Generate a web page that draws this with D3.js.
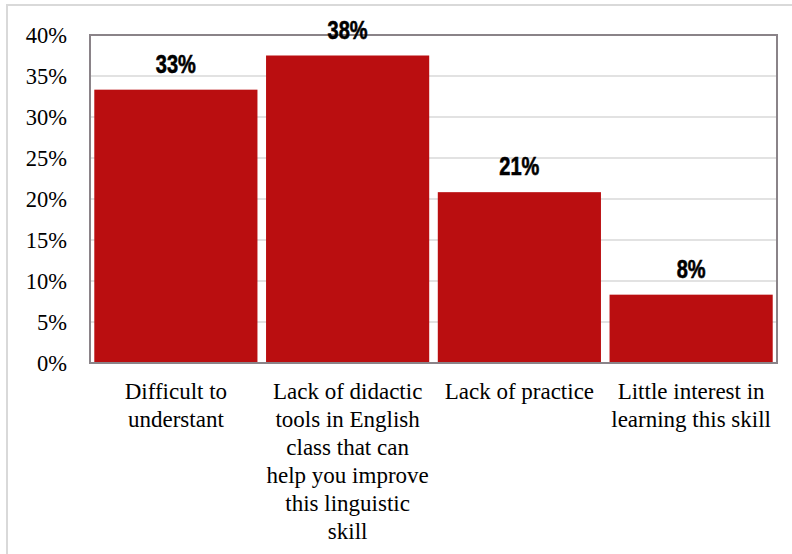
<!DOCTYPE html>
<html>
<head>
<meta charset="utf-8">
<script src="https://cdn.jsdelivr.net/npm/d3@7"></script>
<style>
  html, body { margin: 0; padding: 0; background: #ffffff; }
  svg { display: block; }
</style>
</head>
<body>
<svg id="chart" width="792" height="554"></svg>
<script>
// Reasons reported for difficulty with the skill (share of respondents)
const categories = [
  "Difficult to understant",
  "Lack of didactic tools in English class that can help you improve this linguistic skill",
  "Lack of practice",
  "Little interest in learning this skill"
];
const shares = [8 / 24, 9 / 24, 5 / 24, 2 / 24];
const yTicks = [0, 0.05, 0.10, 0.15, 0.20, 0.25, 0.30, 0.35, 0.40];

const svg = d3.select("#chart");
const plot = { left: 90, right: 777, top: 35, bottom: 363 };

// Outer chart frame
svg.append("rect")
  .attr("x", 7).attr("y", 5)
  .attr("width", 800).attr("height", 600)
  .attr("fill", "none")
  .attr("stroke", "#d9d9d9")
  .attr("stroke-width", 2);

const x = d3.scaleBand()
  .domain(categories)
  .range([plot.left, plot.right])
  .paddingInner(0.05)
  .paddingOuter(0.025);

const y = d3.scaleLinear()
  .domain([0, 0.40])
  .range([plot.bottom, plot.top]);

// Horizontal gridlines
svg.append("g")
  .selectAll("line")
  .data(yTicks.slice(1, -1))
  .join("line")
  .attr("x1", plot.left).attr("x2", plot.right)
  .attr("y1", d => y(d)).attr("y2", d => y(d))
  .attr("stroke", "#d9d9d9")
  .attr("stroke-width", 1.5);

// Bars
svg.append("g")
  .selectAll("rect")
  .data(categories)
  .join("rect")
  .attr("x", d => x(d))
  .attr("y", (d, i) => y(shares[i]))
  .attr("width", x.bandwidth())
  .attr("height", (d, i) => y(0) - y(shares[i]))
  .attr("fill", "#ba0e10");

// Plot area border
svg.append("rect")
  .attr("x", plot.left).attr("y", plot.top)
  .attr("width", plot.right - plot.left)
  .attr("height", plot.bottom - plot.top)
  .attr("fill", "none")
  .attr("stroke", "#8a8388")
  .attr("stroke-width", 2);

// Y axis
const yAxis = d3.axisLeft(y)
  .tickValues(yTicks)
  .tickFormat(d3.format(".0%"))
  .tickSize(0)
  .tickPadding(0);

const yg = svg.append("g")
  .attr("transform", `translate(67,0)`)
  .call(yAxis);
yg.select(".domain").remove();
yg.selectAll("text")
  .attr("font-family", "'Liberation Serif', 'Times New Roman', serif")
  .attr("font-size", 22.5)
  .attr("fill", "#000")
  .attr("dy", "0.34em");

// Value labels in a heavy condensed face
const fmt = d3.format(".0%");
svg.append("g")
  .selectAll("text")
  .data(categories)
  .join("text")
  .attr("transform", (d, i) =>
    `translate(${x(d) + x.bandwidth() / 2},${y(shares[i]) - 17}) scale(0.8,1)`)
  .attr("text-anchor", "middle")
  .attr("font-family", "'Liberation Sans', Arial, sans-serif")
  .attr("font-weight", "bold")
  .attr("font-size", 25)
  .attr("fill", "#000")
  .attr("stroke", "#000")
  .attr("stroke-width", 0.6)
  .text((d, i) => fmt(shares[i]));

// Category labels, wrapped to the band width
const xAxis = d3.axisBottom(x).tickSize(0).tickPadding(0);
const xg = svg.append("g")
  .attr("transform", `translate(0,${plot.bottom})`)
  .call(xAxis);
xg.select(".domain").remove();
xg.selectAll("text")
  .attr("font-family", "'Liberation Serif', 'Times New Roman', serif")
  .attr("font-size", 23)
  .attr("fill", "#000")
  .attr("y", 36)
  .attr("dy", 0)
  .each(function (d) {
    const el = d3.select(this);
    const words = d.split(/\s+/);
    const maxW = x.bandwidth() + 3;
    el.text(null);
    let line = [];
    let tspan = el.append("tspan").attr("x", 0).attr("dy", 0);
    for (const w of words) {
      line.push(w);
      tspan.text(line.join(" "));
      if (tspan.node().getComputedTextLength() > maxW && line.length > 1) {
        line.pop();
        tspan.text(line.join(" "));
        line = [w];
        tspan = el.append("tspan").attr("x", 0).attr("dy", 28).text(w);
      }
    }
  });
</script>
</body>
</html>
